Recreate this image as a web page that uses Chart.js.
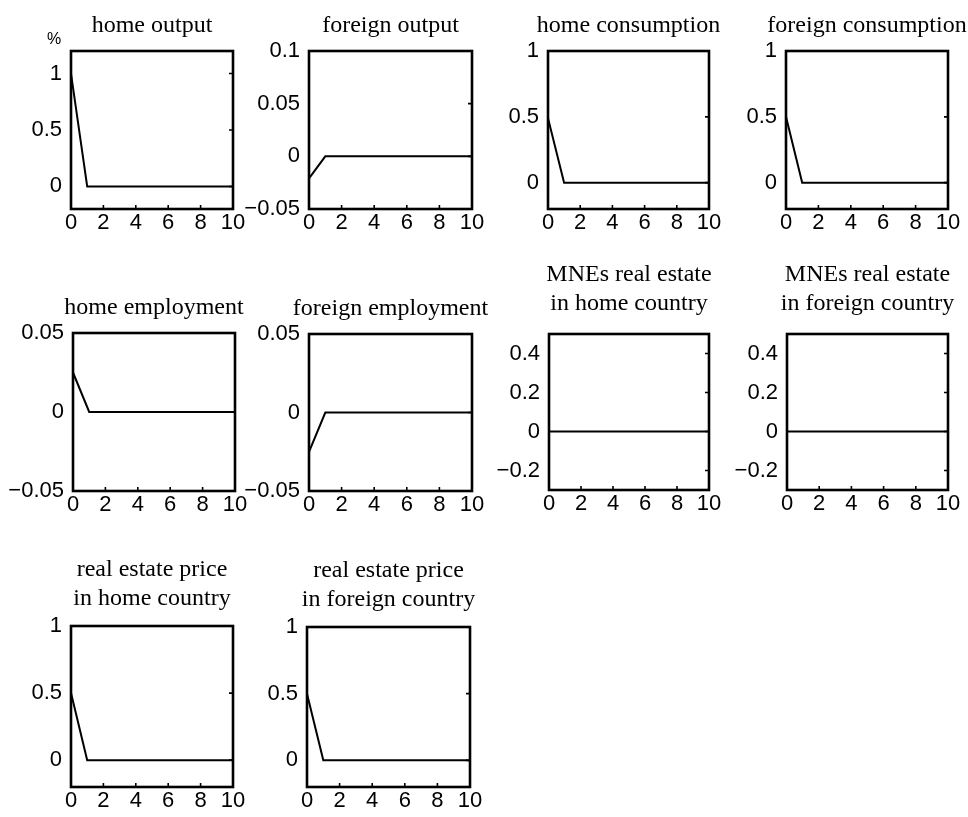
<!DOCTYPE html>
<html>
<head>
<meta charset="utf-8">
<script src="https://cdn.jsdelivr.net/npm/chart.js@4.4.1/dist/chart.umd.min.js"></script>
<style>
  html, body { margin: 0; padding: 0; background: #fff; width: 968px; height: 817px; overflow: hidden; }
  #wrap { position: relative; width: 968px; height: 817px; }
  #wrap canvas { position: absolute; }
</style>
</head>
<body>
<div id="wrap"></div>
<script>
// Horizon (periods after the shock)
const periods = [0, 1, 2, 3, 4, 5, 6, 7, 8, 9, 10];

// Impulse responses, one array per variable
const homeOutput          = [1, 0, 0, 0, 0, 0, 0, 0, 0, 0, 0];
const foreignOutput       = [-0.021, 0, 0, 0, 0, 0, 0, 0, 0, 0, 0];
const homeConsumption     = [0.49, 0, 0, 0, 0, 0, 0, 0, 0, 0, 0];
const foreignConsumption  = [0.5, 0, 0, 0, 0, 0, 0, 0, 0, 0, 0];
const homeEmployment      = [0.025, 0, 0, 0, 0, 0, 0, 0, 0, 0, 0];
const foreignEmployment   = [-0.025, 0, 0, 0, 0, 0, 0, 0, 0, 0, 0];
const mneEstateHome       = [0, 0, 0, 0, 0, 0, 0, 0, 0, 0, 0];
const mneEstateForeign    = [0, 0, 0, 0, 0, 0, 0, 0, 0, 0, 0];
const estatePriceHome     = [0.5, 0, 0, 0, 0, 0, 0, 0, 0, 0, 0];
const estatePriceForeign  = [0.5, 0, 0, 0, 0, 0, 0, 0, 0, 0, 0];

// Panel titles
const titles = [
  ["home output"],
  ["foreign output"],
  ["home consumption"],
  ["foreign consumption"],
  ["home employment"],
  ["foreign employment"],
  ["MNEs real estate", "in home country"],
  ["MNEs real estate", "in foreign country"],
  ["real estate price", "in home country"],
  ["real estate price", "in foreign country"]
];

// Tick values
const xTicks        = [0, 2, 4, 6, 8, 10];
const yTicksUnit    = [0, 0.5, 1];
const yTicksOutputF = [-0.05, 0, 0.05, 0.1];
const yTicksEmploy  = [-0.05, 0, 0.05];
const yTicksEstate  = [-0.2, 0, 0.2, 0.4];

// Axis ranges [min, max]
const rangeOutputH = [-0.2, 1.2];
const rangeOutputF = [-0.05, 0.1];
const rangeUnit    = [-0.2, 1];
const rangeEmploy  = [-0.05, 0.05];
const rangeEstate  = [-0.3, 0.5];

const series = [homeOutput, foreignOutput, homeConsumption, foreignConsumption,
                homeEmployment, foreignEmployment, mneEstateHome, mneEstateForeign,
                estatePriceHome, estatePriceForeign];
const yTickSets = [yTicksUnit, yTicksOutputF, yTicksUnit, yTicksUnit,
                   yTicksEmploy, yTicksEmploy, yTicksEstate, yTicksEstate,
                   yTicksUnit, yTicksUnit];
const yRanges = [rangeOutputH, rangeOutputF, rangeUnit, rangeUnit,
                 rangeEmploy, rangeEmploy, rangeEstate, rangeEstate,
                 rangeUnit, rangeUnit];

// Plot-box placement on the page: [left, top, right, bottom]
const boxes = [
  [71, 51, 233, 209], [309, 51, 472, 209], [548, 51, 709, 209], [786, 51, 948, 209],
  [73, 333, 235, 491], [309, 334, 472, 491], [549, 334, 709, 490], [787, 334, 948, 490],
  [71, 626, 233, 787], [307, 627, 470, 787]
];
// Vertical nudge of each title block (px, positive = down)
const titleNudge = [2, 2, 2, 2, 2, 2, -3, -3, 0, 0];

const Y_AXIS_W = 70, X_AXIS_H = 30, SIDE_PAD = 70;
const TITLE_LINE = 29, TITLE_GAP = 13;
const SANS = '"Liberation Sans", Arial, sans-serif';
const SERIF = '"Liberation Serif", "Times New Roman", serif';

function fmtTick(v) {
  const s = String(Math.abs(v));
  return v < 0 ? '\u2212' + s : s;
}

// Panel title centred over the plot box, in the space reserved by layout.padding.top
const boxTitlePlugin = {
  id: 'boxTitle',
  afterDraw(chart, args, opts) {
    const { ctx, chartArea: a } = chart;
    const lines = opts.lines || [];
    ctx.save();
    ctx.fillStyle = '#000';
    ctx.font = '24px ' + SERIF;
    ctx.textAlign = 'center';
    ctx.textBaseline = 'middle';
    const cx = (a.left + a.right) / 2;
    lines.forEach((txt, k) => {
      const y = a.top - TITLE_GAP - (lines.length - k - 0.5) * TITLE_LINE + (opts.dy || 0);
      ctx.fillText(txt, cx, y);
    });
    ctx.restore();
  }
};

// Box frame, inner tick marks on bottom/right edges, optional unit label
const framePlugin = {
  id: 'frame',
  afterDraw(chart, args, opts) {
    const { ctx, chartArea: a, scales } = chart;
    ctx.save();
    ctx.strokeStyle = '#000';
    ctx.lineWidth = 1.6;
    ctx.beginPath();
    scales.x.ticks.forEach(t => {
      const px = scales.x.getPixelForValue(t.value);
      ctx.moveTo(px, a.bottom);
      ctx.lineTo(px, a.bottom - 4);
    });
    scales.y.ticks.forEach(t => {
      const py = scales.y.getPixelForValue(t.value);
      ctx.moveTo(a.right, py);
      ctx.lineTo(a.right - 4, py);
    });
    ctx.stroke();
    ctx.lineWidth = 2.6;
    ctx.strokeRect(a.left, a.top, a.right - a.left, a.bottom - a.top);
    if (opts && opts.unit) {
      ctx.fillStyle = '#000';
      ctx.font = '16px ' + SANS;
      ctx.textAlign = 'center';
      ctx.textBaseline = 'middle';
      ctx.fillText(opts.unit, a.left - 17, a.top - 11);
    }
    ctx.restore();
  }
};

const wrap = document.getElementById('wrap');

series.forEach((vals, i) => {
  const [bl, bt, br, bb] = boxes[i];
  const titleH = titles[i].length * TITLE_LINE + TITLE_GAP;
  const w = Y_AXIS_W + (br - bl) + SIDE_PAD;
  const h = titleH + (bb - bt) + X_AXIS_H;

  const canvas = document.createElement('canvas');
  canvas.width = w;
  canvas.height = h;
  canvas.style.left = (bl - Y_AXIS_W) + 'px';
  canvas.style.top = (bt - titleH) + 'px';
  canvas.style.width = w + 'px';
  canvas.style.height = h + 'px';
  wrap.appendChild(canvas);

  const yt = yTickSets[i];
  const [ymin, ymax] = yRanges[i];

  new Chart(canvas, {
    type: 'line',
    data: {
      datasets: [{
        data: periods.map((p, k) => ({ x: p, y: vals[k] })),
        borderColor: '#000',
        borderWidth: 2,
        pointRadius: 0,
        tension: 0,
        fill: false
      }]
    },
    options: {
      responsive: false,
      animation: false,
      events: [],
      layout: { padding: { left: 0, top: titleH, right: SIDE_PAD, bottom: 0 } },
      plugins: {
        legend: { display: false },
        tooltip: { enabled: false },
        title: { display: false },
        boxTitle: { lines: titles[i], dy: titleNudge[i] },
        frame: { unit: i === 0 ? '%' : '' }
      },
      scales: {
        x: {
          type: 'linear',
          min: 0,
          max: 10,
          grid: { display: false, drawTicks: false },
          border: { display: false },
          afterBuildTicks: s => { s.ticks = xTicks.map(v => ({ value: v })); },
          ticks: {
            color: '#000',
            padding: 3,
            maxRotation: 0,
            font: { family: SANS, size: 22, lineHeight: 1 },
            callback: v => fmtTick(v)
          },
          afterFit: s => { s.height = X_AXIS_H; }
        },
        y: {
          type: 'linear',
          min: ymin,
          max: ymax,
          grid: { display: false, drawTicks: false },
          border: { display: false },
          afterBuildTicks: s => { s.ticks = yt.map(v => ({ value: v })); },
          ticks: {
            color: '#000',
            padding: 9,
            font: { family: SANS, size: 22, lineHeight: 1 },
            callback: v => fmtTick(v)
          },
          afterFit: s => { s.width = Y_AXIS_W; }
        }
      }
    },
    plugins: [boxTitlePlugin, framePlugin]
  });
});
</script>
</body>
</html>
